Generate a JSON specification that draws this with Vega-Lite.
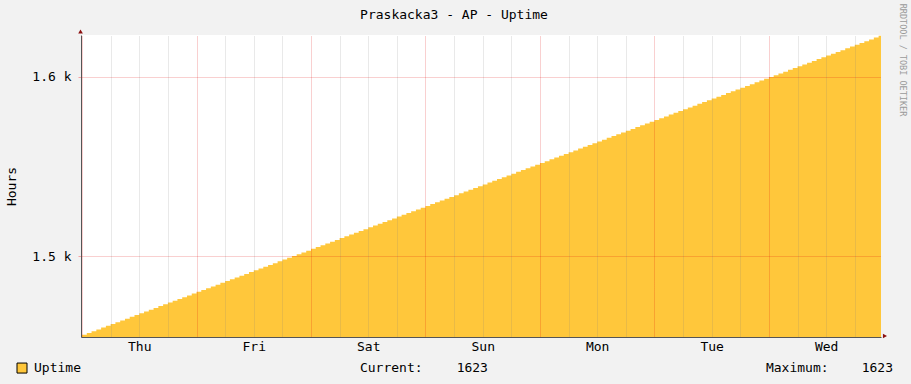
{
  "$schema": "https://vega.github.io/schema/vega-lite/v6.json",
  "width": 800,
  "height": 302,
  "autosize": {"type": "none"},
  "padding": {"left": 81, "top": 35, "right": 30, "bottom": 47},
  "background": "#F2F2F2",
  "config": {"view": {"fill": "#FFFFFF", "stroke": null}, "font": "DejaVu Sans Mono"},
  "title": {"text": "Praskacka3 - AP - Uptime", "font": "DejaVu Sans Mono", "fontSize": 13, "fontWeight": "normal", "color": "#000000", "anchor": "middle", "frame": "group", "dx": -27, "offset": -18},
  "data": {"values": [
    {"time": "2014-12-31T23:47", "uptime": 1455},
    {"time": "2015-01-01T00:00", "uptime": 1456}, {"time": "2015-01-01T01:00", "uptime": 1457}, {"time": "2015-01-01T02:00", "uptime": 1458}, {"time": "2015-01-01T03:00", "uptime": 1459},
    {"time": "2015-01-01T04:00", "uptime": 1460}, {"time": "2015-01-01T05:00", "uptime": 1461}, {"time": "2015-01-01T06:00", "uptime": 1462}, {"time": "2015-01-01T07:00", "uptime": 1463},
    {"time": "2015-01-01T08:00", "uptime": 1464}, {"time": "2015-01-01T09:00", "uptime": 1465}, {"time": "2015-01-01T10:00", "uptime": 1466}, {"time": "2015-01-01T11:00", "uptime": 1467},
    {"time": "2015-01-01T12:00", "uptime": 1468}, {"time": "2015-01-01T13:00", "uptime": 1469}, {"time": "2015-01-01T14:00", "uptime": 1470}, {"time": "2015-01-01T15:00", "uptime": 1471},
    {"time": "2015-01-01T16:00", "uptime": 1472}, {"time": "2015-01-01T17:00", "uptime": 1473}, {"time": "2015-01-01T18:00", "uptime": 1474}, {"time": "2015-01-01T19:00", "uptime": 1475},
    {"time": "2015-01-01T20:00", "uptime": 1476}, {"time": "2015-01-01T21:00", "uptime": 1477}, {"time": "2015-01-01T22:00", "uptime": 1478}, {"time": "2015-01-01T23:00", "uptime": 1479},
    {"time": "2015-01-02T00:00", "uptime": 1480}, {"time": "2015-01-02T01:00", "uptime": 1481}, {"time": "2015-01-02T02:00", "uptime": 1482}, {"time": "2015-01-02T03:00", "uptime": 1483},
    {"time": "2015-01-02T04:00", "uptime": 1484}, {"time": "2015-01-02T05:00", "uptime": 1485}, {"time": "2015-01-02T06:00", "uptime": 1486}, {"time": "2015-01-02T07:00", "uptime": 1487},
    {"time": "2015-01-02T08:00", "uptime": 1488}, {"time": "2015-01-02T09:00", "uptime": 1489}, {"time": "2015-01-02T10:00", "uptime": 1490}, {"time": "2015-01-02T11:00", "uptime": 1491},
    {"time": "2015-01-02T12:00", "uptime": 1492}, {"time": "2015-01-02T13:00", "uptime": 1493}, {"time": "2015-01-02T14:00", "uptime": 1494}, {"time": "2015-01-02T15:00", "uptime": 1495},
    {"time": "2015-01-02T16:00", "uptime": 1496}, {"time": "2015-01-02T17:00", "uptime": 1497}, {"time": "2015-01-02T18:00", "uptime": 1498}, {"time": "2015-01-02T19:00", "uptime": 1499},
    {"time": "2015-01-02T20:00", "uptime": 1500}, {"time": "2015-01-02T21:00", "uptime": 1501}, {"time": "2015-01-02T22:00", "uptime": 1502}, {"time": "2015-01-02T23:00", "uptime": 1503},
    {"time": "2015-01-03T00:00", "uptime": 1504}, {"time": "2015-01-03T01:00", "uptime": 1505}, {"time": "2015-01-03T02:00", "uptime": 1506}, {"time": "2015-01-03T03:00", "uptime": 1507},
    {"time": "2015-01-03T04:00", "uptime": 1508}, {"time": "2015-01-03T05:00", "uptime": 1509}, {"time": "2015-01-03T06:00", "uptime": 1510}, {"time": "2015-01-03T07:00", "uptime": 1511},
    {"time": "2015-01-03T08:00", "uptime": 1512}, {"time": "2015-01-03T09:00", "uptime": 1513}, {"time": "2015-01-03T10:00", "uptime": 1514}, {"time": "2015-01-03T11:00", "uptime": 1515},
    {"time": "2015-01-03T12:00", "uptime": 1516}, {"time": "2015-01-03T13:00", "uptime": 1517}, {"time": "2015-01-03T14:00", "uptime": 1518}, {"time": "2015-01-03T15:00", "uptime": 1519},
    {"time": "2015-01-03T16:00", "uptime": 1520}, {"time": "2015-01-03T17:00", "uptime": 1521}, {"time": "2015-01-03T18:00", "uptime": 1522}, {"time": "2015-01-03T19:00", "uptime": 1523},
    {"time": "2015-01-03T20:00", "uptime": 1524}, {"time": "2015-01-03T21:00", "uptime": 1525}, {"time": "2015-01-03T22:00", "uptime": 1526}, {"time": "2015-01-03T23:00", "uptime": 1527},
    {"time": "2015-01-04T00:00", "uptime": 1528}, {"time": "2015-01-04T01:00", "uptime": 1529}, {"time": "2015-01-04T02:00", "uptime": 1530}, {"time": "2015-01-04T03:00", "uptime": 1531},
    {"time": "2015-01-04T04:00", "uptime": 1532}, {"time": "2015-01-04T05:00", "uptime": 1533}, {"time": "2015-01-04T06:00", "uptime": 1534}, {"time": "2015-01-04T07:00", "uptime": 1535},
    {"time": "2015-01-04T08:00", "uptime": 1536}, {"time": "2015-01-04T09:00", "uptime": 1537}, {"time": "2015-01-04T10:00", "uptime": 1538}, {"time": "2015-01-04T11:00", "uptime": 1539},
    {"time": "2015-01-04T12:00", "uptime": 1540}, {"time": "2015-01-04T13:00", "uptime": 1541}, {"time": "2015-01-04T14:00", "uptime": 1542}, {"time": "2015-01-04T15:00", "uptime": 1543},
    {"time": "2015-01-04T16:00", "uptime": 1544}, {"time": "2015-01-04T17:00", "uptime": 1545}, {"time": "2015-01-04T18:00", "uptime": 1546}, {"time": "2015-01-04T19:00", "uptime": 1547},
    {"time": "2015-01-04T20:00", "uptime": 1548}, {"time": "2015-01-04T21:00", "uptime": 1549}, {"time": "2015-01-04T22:00", "uptime": 1550}, {"time": "2015-01-04T23:00", "uptime": 1551},
    {"time": "2015-01-05T00:00", "uptime": 1552}, {"time": "2015-01-05T01:00", "uptime": 1553}, {"time": "2015-01-05T02:00", "uptime": 1554}, {"time": "2015-01-05T03:00", "uptime": 1555},
    {"time": "2015-01-05T04:00", "uptime": 1556}, {"time": "2015-01-05T05:00", "uptime": 1557}, {"time": "2015-01-05T06:00", "uptime": 1558}, {"time": "2015-01-05T07:00", "uptime": 1559},
    {"time": "2015-01-05T08:00", "uptime": 1560}, {"time": "2015-01-05T09:00", "uptime": 1561}, {"time": "2015-01-05T10:00", "uptime": 1562}, {"time": "2015-01-05T11:00", "uptime": 1563},
    {"time": "2015-01-05T12:00", "uptime": 1564}, {"time": "2015-01-05T13:00", "uptime": 1565}, {"time": "2015-01-05T14:00", "uptime": 1566}, {"time": "2015-01-05T15:00", "uptime": 1567},
    {"time": "2015-01-05T16:00", "uptime": 1568}, {"time": "2015-01-05T17:00", "uptime": 1569}, {"time": "2015-01-05T18:00", "uptime": 1570}, {"time": "2015-01-05T19:00", "uptime": 1571},
    {"time": "2015-01-05T20:00", "uptime": 1572}, {"time": "2015-01-05T21:00", "uptime": 1573}, {"time": "2015-01-05T22:00", "uptime": 1574}, {"time": "2015-01-05T23:00", "uptime": 1575},
    {"time": "2015-01-06T00:00", "uptime": 1576}, {"time": "2015-01-06T01:00", "uptime": 1577}, {"time": "2015-01-06T02:00", "uptime": 1578}, {"time": "2015-01-06T03:00", "uptime": 1579},
    {"time": "2015-01-06T04:00", "uptime": 1580}, {"time": "2015-01-06T05:00", "uptime": 1581}, {"time": "2015-01-06T06:00", "uptime": 1582}, {"time": "2015-01-06T07:00", "uptime": 1583},
    {"time": "2015-01-06T08:00", "uptime": 1584}, {"time": "2015-01-06T09:00", "uptime": 1585}, {"time": "2015-01-06T10:00", "uptime": 1586}, {"time": "2015-01-06T11:00", "uptime": 1587},
    {"time": "2015-01-06T12:00", "uptime": 1588}, {"time": "2015-01-06T13:00", "uptime": 1589}, {"time": "2015-01-06T14:00", "uptime": 1590}, {"time": "2015-01-06T15:00", "uptime": 1591},
    {"time": "2015-01-06T16:00", "uptime": 1592}, {"time": "2015-01-06T17:00", "uptime": 1593}, {"time": "2015-01-06T18:00", "uptime": 1594}, {"time": "2015-01-06T19:00", "uptime": 1595},
    {"time": "2015-01-06T20:00", "uptime": 1596}, {"time": "2015-01-06T21:00", "uptime": 1597}, {"time": "2015-01-06T22:00", "uptime": 1598}, {"time": "2015-01-06T23:00", "uptime": 1599},
    {"time": "2015-01-07T00:00", "uptime": 1600}, {"time": "2015-01-07T01:00", "uptime": 1601}, {"time": "2015-01-07T02:00", "uptime": 1602}, {"time": "2015-01-07T03:00", "uptime": 1603},
    {"time": "2015-01-07T04:00", "uptime": 1604}, {"time": "2015-01-07T05:00", "uptime": 1605}, {"time": "2015-01-07T06:00", "uptime": 1606}, {"time": "2015-01-07T07:00", "uptime": 1607},
    {"time": "2015-01-07T08:00", "uptime": 1608}, {"time": "2015-01-07T09:00", "uptime": 1609}, {"time": "2015-01-07T10:00", "uptime": 1610}, {"time": "2015-01-07T11:00", "uptime": 1611},
    {"time": "2015-01-07T12:00", "uptime": 1612}, {"time": "2015-01-07T13:00", "uptime": 1613}, {"time": "2015-01-07T14:00", "uptime": 1614}, {"time": "2015-01-07T15:00", "uptime": 1615},
    {"time": "2015-01-07T16:00", "uptime": 1616}, {"time": "2015-01-07T17:00", "uptime": 1617}, {"time": "2015-01-07T18:00", "uptime": 1618}, {"time": "2015-01-07T19:00", "uptime": 1619},
    {"time": "2015-01-07T20:00", "uptime": 1620}, {"time": "2015-01-07T21:00", "uptime": 1621}, {"time": "2015-01-07T22:00", "uptime": 1622}, {"time": "2015-01-07T23:00", "uptime": 1623},
    {"time": "2015-01-07T23:30", "uptime": 1623}
  ]},
  "layer": [
    {
      "mark": {"type": "area", "color": "#FFC73B", "interpolate": "step-after", "clip": true},
      "encoding": {
        "x": {"field": "time", "type": "temporal",
          "scale": {"domain": [{"year": 2014, "month": 12, "date": 31, "hours": 23, "minutes": 47}, {"year": 2015, "month": 1, "date": 7, "hours": 23, "minutes": 30}]},
          "axis": {"orient": "bottom", "title": null, "format": "%a", "grid": false, "ticks": false, "labelPadding": 3, "labelFont": "DejaVu Sans Mono", "labelFontSize": 13, "labelColor": "#000000", "labelFlush": false, "labelOverlap": false, "domainColor": "#555555", "zindex": 1,
            "values": [
              {"year": 2015, "month": 1, "date": 1, "hours": 12}, {"year": 2015, "month": 1, "date": 2, "hours": 12}, {"year": 2015, "month": 1, "date": 3, "hours": 12},
              {"year": 2015, "month": 1, "date": 4, "hours": 12}, {"year": 2015, "month": 1, "date": 5, "hours": 12}, {"year": 2015, "month": 1, "date": 6, "hours": 12},
              {"year": 2015, "month": 1, "date": 7, "hours": 12}]}},
        "y": {"field": "uptime", "type": "quantitative", "stack": null,
          "scale": {"domain": [1454.75, 1623.46], "zero": false, "nice": false},
          "axis": {"orient": "left", "values": [1500, 1600], "labelExpr": "format(datum.value/1000, '.1f') + ' k'", "grid": true, "gridColor": "#E00000", "gridOpacity": 0.37, "gridDash": [1, 1], "tickSize": 3, "tickColor": "#F4A1A1", "labelPadding": 7, "labelFont": "DejaVu Sans Mono", "labelFontSize": 13, "labelColor": "#000000", "domainColor": "#555555", "zindex": 1,
            "title": "Hours", "titleFont": "DejaVu Sans Mono", "titleFontSize": 13, "titleFontWeight": "normal", "titleColor": "#000000", "titlePadding": 13}}
      }
    },
    {
      "mark": {"type": "rule", "strokeOpacity": 0},
      "encoding": {
        "x": {"field": "time", "type": "temporal",
          "scale": {"domain": [{"year": 2014, "month": 12, "date": 31, "hours": 23, "minutes": 47}, {"year": 2015, "month": 1, "date": 7, "hours": 23, "minutes": 30}]},
          "axis": {"orient": "bottom", "title": null, "labels": false, "ticks": false, "domain": false, "grid": true, "gridColor": "#808080", "gridOpacity": 0.35, "gridDash": [1, 1], "zindex": 1,
            "values": [
              {"year": 2015, "month": 1, "date": 1, "hours": 6}, {"year": 2015, "month": 1, "date": 1, "hours": 12}, {"year": 2015, "month": 1, "date": 1, "hours": 18},
              {"year": 2015, "month": 1, "date": 2, "hours": 6}, {"year": 2015, "month": 1, "date": 2, "hours": 12}, {"year": 2015, "month": 1, "date": 2, "hours": 18},
              {"year": 2015, "month": 1, "date": 3, "hours": 6}, {"year": 2015, "month": 1, "date": 3, "hours": 12}, {"year": 2015, "month": 1, "date": 3, "hours": 18},
              {"year": 2015, "month": 1, "date": 4, "hours": 6}, {"year": 2015, "month": 1, "date": 4, "hours": 12}, {"year": 2015, "month": 1, "date": 4, "hours": 18},
              {"year": 2015, "month": 1, "date": 5, "hours": 6}, {"year": 2015, "month": 1, "date": 5, "hours": 12}, {"year": 2015, "month": 1, "date": 5, "hours": 18},
              {"year": 2015, "month": 1, "date": 6, "hours": 6}, {"year": 2015, "month": 1, "date": 6, "hours": 12}, {"year": 2015, "month": 1, "date": 6, "hours": 18},
              {"year": 2015, "month": 1, "date": 7, "hours": 6}, {"year": 2015, "month": 1, "date": 7, "hours": 12}, {"year": 2015, "month": 1, "date": 7, "hours": 18}]}}
      }
    },
    {
      "mark": {"type": "rule", "strokeOpacity": 0},
      "encoding": {
        "x": {"field": "time", "type": "temporal",
          "scale": {"domain": [{"year": 2014, "month": 12, "date": 31, "hours": 23, "minutes": 47}, {"year": 2015, "month": 1, "date": 7, "hours": 23, "minutes": 30}]},
          "axis": {"orient": "bottom", "title": null, "labels": false, "ticks": false, "domain": false, "grid": true, "gridColor": "#E00000", "gridOpacity": 0.37, "gridDash": [1, 1], "zindex": 1,
            "values": [
              {"year": 2015, "month": 1, "date": 1}, {"year": 2015, "month": 1, "date": 2}, {"year": 2015, "month": 1, "date": 3},
              {"year": 2015, "month": 1, "date": 4}, {"year": 2015, "month": 1, "date": 5}, {"year": 2015, "month": 1, "date": 6},
              {"year": 2015, "month": 1, "date": 7}]}}
      }
    },
    {
      "data": {"values": [{"arrow": "y"}]},
      "mark": {"type": "point", "shape": "triangle-up", "filled": true, "color": "#8B1010", "size": 22, "opacity": 1},
      "encoding": {
        "x": {"datum": {"year": 2014, "month": 12, "date": 31, "hours": 23, "minutes": 41}, "type": "temporal", "scale": {"domain": [{"year": 2014, "month": 12, "date": 31, "hours": 23, "minutes": 47}, {"year": 2015, "month": 1, "date": 7, "hours": 23, "minutes": 30}]}, "axis": null},
        "y": {"datum": 1625.4, "type": "quantitative", "scale": {"domain": [1454.75, 1623.46], "zero": false, "nice": false}, "axis": null}
      }
    },
    {
      "data": {"values": [{"arrow": "x"}]},
      "mark": {"type": "point", "shape": "triangle-right", "filled": true, "color": "#8B1010", "size": 22, "opacity": 1},
      "encoding": {
        "x": {"datum": {"year": 2015, "month": 1, "date": 8, "hours": 0, "minutes": 20}, "type": "temporal", "scale": {"domain": [{"year": 2014, "month": 12, "date": 31, "hours": 23, "minutes": 47}, {"year": 2015, "month": 1, "date": 7, "hours": 23, "minutes": 30}]}, "axis": null},
        "y": {"datum": 1455.3, "type": "quantitative", "scale": {"domain": [1454.75, 1623.46], "zero": false, "nice": false}, "axis": null}
      }
    },
    {
      "data": {"values": [{"series": "Uptime"}]},
      "mark": {"type": "point", "shape": "square", "filled": true, "fill": "#FFC73B", "stroke": "#000000", "strokeWidth": 1, "size": 100, "opacity": 1},
      "encoding": {
        "x": {"datum": {"year": 2014, "month": 12, "date": 31, "hours": 11, "minutes": 25}, "type": "temporal", "scale": {"domain": [{"year": 2014, "month": 12, "date": 31, "hours": 23, "minutes": 47}, {"year": 2015, "month": 1, "date": 7, "hours": 23, "minutes": 30}]}, "axis": null},
        "y": {"datum": 1437.4, "type": "quantitative", "scale": {"domain": [1454.75, 1623.46], "zero": false, "nice": false}, "axis": null}
      }
    },
    {
      "data": {"values": [{"series": "Uptime"}]},
      "mark": {"type": "text", "font": "DejaVu Sans Mono", "fontSize": 13, "align": "left", "baseline": "middle", "color": "#000000"},
      "encoding": {
        "x": {"datum": {"year": 2014, "month": 12, "date": 31, "hours": 13, "minutes": 56}, "type": "temporal", "scale": {"domain": [{"year": 2014, "month": 12, "date": 31, "hours": 23, "minutes": 47}, {"year": 2015, "month": 1, "date": 7, "hours": 23, "minutes": 30}]}, "axis": null},
        "y": {"datum": 1437.4, "type": "quantitative", "scale": {"domain": [1454.75, 1623.46], "zero": false, "nice": false}, "axis": null},
        "text": {"field": "series"}
      }
    },
    {
      "data": {"values": [{"label": "Current:"}]},
      "mark": {"type": "text", "font": "DejaVu Sans Mono", "fontSize": 13, "align": "left", "baseline": "middle", "color": "#000000"},
      "encoding": {
        "x": {"datum": {"year": 2015, "month": 1, "date": 3, "hours": 10, "minutes": 16}, "type": "temporal", "scale": {"domain": [{"year": 2014, "month": 12, "date": 31, "hours": 23, "minutes": 47}, {"year": 2015, "month": 1, "date": 7, "hours": 23, "minutes": 30}]}, "axis": null},
        "y": {"datum": 1437.4, "type": "quantitative", "scale": {"domain": [1454.75, 1623.46], "zero": false, "nice": false}, "axis": null},
        "text": {"field": "label"}
      }
    },
    {
      "data": {"values": [{"label": "Maximum:"}]},
      "mark": {"type": "text", "font": "DejaVu Sans Mono", "fontSize": 13, "align": "left", "baseline": "middle", "color": "#000000"},
      "encoding": {
        "x": {"datum": {"year": 2015, "month": 1, "date": 6, "hours": 23, "minutes": 23}, "type": "temporal", "scale": {"domain": [{"year": 2014, "month": 12, "date": 31, "hours": 23, "minutes": 47}, {"year": 2015, "month": 1, "date": 7, "hours": 23, "minutes": 30}]}, "axis": null},
        "y": {"datum": 1437.4, "type": "quantitative", "scale": {"domain": [1454.75, 1623.46], "zero": false, "nice": false}, "axis": null},
        "text": {"field": "label"}
      }
    },
    {
      "transform": [{"aggregate": [{"op": "argmax", "field": "time", "as": "last"}, {"op": "max", "field": "uptime", "as": "maxv"}]}],
      "layer": [
        {
          "mark": {"type": "text", "font": "DejaVu Sans Mono", "fontSize": 13, "align": "right", "baseline": "middle", "color": "#000000"},
          "encoding": {
            "x": {"datum": {"year": 2015, "month": 1, "date": 4, "hours": 13, "minutes": 6}, "type": "temporal", "scale": {"domain": [{"year": 2014, "month": 12, "date": 31, "hours": 23, "minutes": 47}, {"year": 2015, "month": 1, "date": 7, "hours": 23, "minutes": 30}]}, "axis": null},
            "y": {"datum": 1437.4, "type": "quantitative", "scale": {"domain": [1454.75, 1623.46], "zero": false, "nice": false}, "axis": null},
            "text": {"field": "last.uptime", "type": "quantitative", "format": ".0f"}
          }
        },
        {
          "mark": {"type": "text", "font": "DejaVu Sans Mono", "fontSize": 13, "align": "right", "baseline": "middle", "color": "#000000"},
          "encoding": {
            "x": {"datum": {"year": 2015, "month": 1, "date": 8, "hours": 2, "minutes": 1}, "type": "temporal", "scale": {"domain": [{"year": 2014, "month": 12, "date": 31, "hours": 23, "minutes": 47}, {"year": 2015, "month": 1, "date": 7, "hours": 23, "minutes": 30}]}, "axis": null},
            "y": {"datum": 1437.4, "type": "quantitative", "scale": {"domain": [1454.75, 1623.46], "zero": false, "nice": false}, "axis": null},
            "text": {"field": "maxv", "type": "quantitative", "format": ".0f"}
          }
        }
      ]
    },
    {
      "data": {"values": [{"credit": "RRDTOOL / TOBI OETIKER"}]},
      "mark": {"type": "text", "font": "DejaVu Sans Mono", "fontSize": 8.5, "align": "center", "baseline": "middle", "angle": 90, "color": "#9A9A9A"},
      "encoding": {
        "x": {"datum": {"year": 2015, "month": 1, "date": 8, "hours": 4, "minutes": 5}, "type": "temporal", "scale": {"domain": [{"year": 2014, "month": 12, "date": 31, "hours": 23, "minutes": 47}, {"year": 2015, "month": 1, "date": 7, "hours": 23, "minutes": 30}]}, "axis": null},
        "y": {"datum": 1609.5, "type": "quantitative", "scale": {"domain": [1454.75, 1623.46], "zero": false, "nice": false}, "axis": null},
        "text": {"field": "credit"}
      }
    }
  ],
  "resolve": {"axis": {"x": "independent", "y": "independent"}}
}
